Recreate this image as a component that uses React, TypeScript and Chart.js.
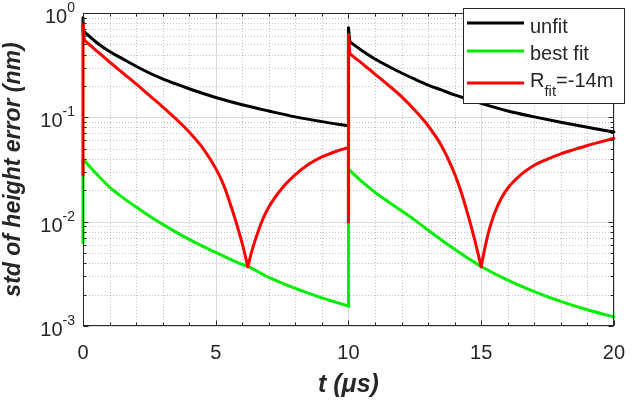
import React, { useEffect, useRef } from "react";
import { Chart, registerables } from "chart.js";

Chart.register(...registerables);

// ---- data ----
const unfitT = [0, 0, 0.05, 0.5, 1, 1.5, 2, 2.5, 3, 3.5, 4, 4.5, 5, 6, 7, 8, 9, 10, 10, 10.05, 10.5, 11, 11.5, 12, 12.5, 13, 13.5, 14, 15, 16, 17, 18, 19, 20];
const unfitV = [0.9, 0.68, 0.66, 0.525, 0.427, 0.363, 0.309, 0.266, 0.234, 0.209, 0.188, 0.17, 0.155, 0.132, 0.115, 0.101, 0.091, 0.083, 0.72, 0.531, 0.437, 0.363, 0.309, 0.266, 0.232, 0.204, 0.183, 0.164, 0.136, 0.115, 0.101, 0.0897, 0.0803, 0.0724];

const bestT = [0, 0, 0.05, 0.5, 1, 1.5, 2, 2.5, 3, 3.5, 4, 4.5, 5, 5.5, 6, 6.21, 7, 8, 9, 10, 10, 10.05, 10.5, 11, 11.5, 12, 12.5, 13, 13.5, 14, 14.5, 15, 16, 17, 18, 19, 20];
const bestV = [0.0063, 0.039, 0.0385, 0.0288, 0.0214, 0.017, 0.0138, 0.01135, 0.00944, 0.00794, 0.00676, 0.00582, 0.00507, 0.00442, 0.00389, 0.00372, 0.00292, 0.00229, 0.00186, 0.00155, 0.0313, 0.031, 0.0243, 0.0191, 0.0155, 0.0127, 0.01035, 0.0083, 0.00668, 0.00543, 0.00447, 0.00372, 0.00275, 0.00214, 0.00172, 0.00143, 0.00122];

const rfitT = [0, 0, 0.05, 0.5, 1, 1.5, 2, 2.5, 3, 3.5, 4, 4.5, 5, 5.3, 5.6, 5.9, 6.05, 6.21, 6.35, 6.5, 6.75, 7, 7.5, 8, 8.5, 9, 9.5, 10, 10, 10, 10.05, 10.5, 11, 11.5, 12, 12.5, 13, 13.5, 13.9, 14.2, 14.5, 14.75, 15, 15.15, 15.3, 15.5, 15.75, 16, 16.5, 17, 17.5, 18, 18.5, 19, 19.5, 20];
const rfitV = [0.028, 0.77, 0.55, 0.437, 0.339, 0.266, 0.209, 0.162, 0.126, 0.0966, 0.0724, 0.0513, 0.0324, 0.0224, 0.0135, 0.0076, 0.0055, 0.0037, 0.0051, 0.0068, 0.0102, 0.0138, 0.0209, 0.0282, 0.0355, 0.0417, 0.0468, 0.0513, 0.01, 0.62, 0.407, 0.331, 0.26, 0.204, 0.158, 0.117, 0.083, 0.0537, 0.0331, 0.0209, 0.0117, 0.0068, 0.0037, 0.00575, 0.0083, 0.012, 0.0166, 0.0209, 0.0282, 0.0347, 0.0398, 0.0447, 0.049, 0.0537, 0.0582, 0.063];

const xMajorTicks = [0, 5, 10, 15, 20];
const xMinorStep = 1;
const yDecades = [1, 0.1, 0.01, 0.001];
const yExponents = ["0", "-1", "-2", "-3"];
const yMinorMultipliers = [2, 3, 4, 5, 6, 7, 8, 9];

const legendMain = ["unfit", "best fit", "R"];
const legendSub = ["", "", "fit"];
const legendRest = ["", "", "=-14m"];
const seriesColors = ["#000000", "#00ee00", "#ff0000"];

const xTitle = "t (\u03bcs)";
const yTitle = "std of height error (nm)";

const FONT = '"Liberation Sans", Arial, Helvetica, sans-serif';
const AX = "#262626";

type Pt = { x: number; y: number };

// Split a series into straight vertical jumps (plus the link leaving a jump) and smooth runs (split at cusps)
function splitRuns(t: number[], v: number[]) {
  const out: { pts: Pt[]; smooth: boolean }[] = [];
  let cur: Pt[] = [];
  let afterVert = false;
  const flush = () => {
    if (cur.length > 1) out.push({ pts: cur, smooth: true });
    cur = [];
  };
  for (let i = 0; i < t.length; i++) {
    const p = { x: t[i], y: v[i] };
    const hasNext = i < t.length - 1;
    if (hasNext && t[i + 1] === t[i]) {
      cur.push(p);
      flush();
      out.push({ pts: [p, { x: t[i + 1], y: v[i + 1] }], smooth: false });
      afterVert = true;
      continue;
    }
    if (afterVert) {
      afterVert = false;
      if (hasNext) out.push({ pts: [p, { x: t[i + 1], y: v[i + 1] }], smooth: false });
      cur = [];
      continue;
    }
    cur.push(p);
    const isMin = i > 0 && hasNext && t[i - 1] !== t[i] && t[i + 1] !== t[i] && v[i] < v[i - 1] && v[i] < v[i + 1];
    if (isMin) {
      flush();
      cur.push(p);
    }
  }
  flush();
  return out;
}

const matlabPlugin = {
  id: "matlabLook",
  beforeDatasetsDraw(chart: any) {
    const { ctx, chartArea: a, scales } = chart;
    const x = scales.x, y = scales.y;
    ctx.save();
    ctx.lineWidth = 1;
    ctx.strokeStyle = "rgba(38,38,38,0.28)";
    ctx.setLineDash([1, 2]);
    ctx.beginPath();
    for (let t = x.min; t <= x.max; t += xMinorStep) {
      if (xMajorTicks.includes(t)) continue;
      const px = Math.round(x.getPixelForValue(t)) + 0.5;
      ctx.moveTo(px, a.top);
      ctx.lineTo(px, a.bottom);
    }
    for (const d of yDecades) {
      for (const m of yMinorMultipliers) {
        const v = d * m;
        if (v >= y.max || v <= y.min) continue;
        const py = Math.round(y.getPixelForValue(v)) + 0.5;
        ctx.moveTo(a.left, py);
        ctx.lineTo(a.right, py);
      }
    }
    ctx.stroke();
    ctx.setLineDash([]);
    ctx.strokeStyle = "rgba(38,38,38,0.16)";
    ctx.beginPath();
    for (const t of xMajorTicks) {
      const px = Math.round(x.getPixelForValue(t)) + 0.5;
      ctx.moveTo(px, a.top);
      ctx.lineTo(px, a.bottom);
    }
    for (const d of yDecades) {
      const py = Math.round(y.getPixelForValue(d)) + 0.5;
      ctx.moveTo(a.left, py);
      ctx.lineTo(a.right, py);
    }
    ctx.stroke();
    ctx.restore();
  },
  afterDatasetsDraw(chart: any) {
    const { ctx, chartArea: a, scales } = chart;
    const x = scales.x, y = scales.y;
    ctx.save();
    ctx.strokeStyle = AX;
    ctx.lineWidth = 1;
    const L = Math.round(a.left) + 0.5, R = Math.round(a.right) - 0.5;
    const T = Math.round(a.top) + 0.5, B = Math.round(a.bottom) - 0.5;
    ctx.strokeRect(L, T, R - L, B - T);
    ctx.beginPath();
    for (const t of xMajorTicks) {
      const px = Math.round(x.getPixelForValue(t)) + 0.5;
      ctx.moveTo(px, B); ctx.lineTo(px, B - 5);
      ctx.moveTo(px, T); ctx.lineTo(px, T + 5);
    }
    for (let t = x.min; t <= x.max; t += xMinorStep) {
      if (xMajorTicks.includes(t)) continue;
      const px = Math.round(x.getPixelForValue(t)) + 0.5;
      ctx.moveTo(px, B); ctx.lineTo(px, B - 3);
      ctx.moveTo(px, T); ctx.lineTo(px, T + 3);
    }
    for (const d of yDecades) {
      const py = Math.round(y.getPixelForValue(d)) + 0.5;
      ctx.moveTo(L, py); ctx.lineTo(L + 5, py);
      ctx.moveTo(R, py); ctx.lineTo(R - 5, py);
      for (const m of yMinorMultipliers) {
        const v = d * m;
        if (v >= y.max || v <= y.min) continue;
        const q = Math.round(y.getPixelForValue(v)) + 0.5;
        ctx.moveTo(L, q); ctx.lineTo(L + 3, q);
        ctx.moveTo(R, q); ctx.lineTo(R - 3, q);
      }
    }
    ctx.stroke();

    ctx.fillStyle = AX;
    ctx.textBaseline = "alphabetic";
    ctx.textAlign = "left";
    yDecades.forEach((d, i) => {
      const py = y.getPixelForValue(d);
      ctx.font = `20px ${FONT}`;
      const bw = ctx.measureText("10").width;
      ctx.font = `14px ${FONT}`;
      const sw = ctx.measureText(yExponents[i]).width;
      const xs = 75 - sw - bw;
      ctx.font = `20px ${FONT}`;
      ctx.fillText("10", xs, py + 10);
      ctx.font = `14px ${FONT}`;
      ctx.fillText(yExponents[i], xs + bw, py - 1);
    });

    const lx = 463, ly = 8, lw = 161, lh = 95;
    ctx.fillStyle = "#ffffff";
    ctx.fillRect(lx, ly, lw, lh);
    ctx.strokeStyle = AX;
    ctx.lineWidth = 1;
    ctx.strokeRect(lx + 0.5, ly + 0.5, lw, lh);
    const rowY = [23, 51, 83];
    const baseY = [33, 60, 87];
    legendMain.forEach((m, i) => {
      ctx.strokeStyle = seriesColors[i];
      ctx.lineWidth = 3;
      ctx.beginPath();
      ctx.moveTo(467, rowY[i]);
      ctx.lineTo(524, rowY[i]);
      ctx.stroke();
      ctx.fillStyle = AX;
      ctx.font = `20px ${FONT}`;
      let tx = 530;
      ctx.fillText(m, tx, baseY[i]);
      tx += ctx.measureText(m).width;
      if (legendSub[i]) {
        ctx.font = `15px ${FONT}`;
        ctx.fillText(legendSub[i], tx, baseY[i] + 9);
        tx += ctx.measureText(legendSub[i]).width;
      }
      if (legendRest[i]) {
        ctx.font = `20px ${FONT}`;
        ctx.fillText(legendRest[i], tx, baseY[i]);
      }
    });
    ctx.restore();
  },
};

export default function App() {
  const ref = useRef<HTMLCanvasElement | null>(null);
  useEffect(() => {
    if (!ref.current) return;
    const series = [
      { label: "unfit", t: unfitT, v: unfitV, color: seriesColors[0], order: 3 },
      { label: "best fit", t: bestT, v: bestV, color: seriesColors[1], order: 2 },
      { label: "R_fit=-14m", t: rfitT, v: rfitV, color: seriesColors[2], order: 1 },
    ];
    const datasets: any[] = [];
    series.forEach((s) => {
      splitRuns(s.t, s.v).forEach((run) => {
        datasets.push({
          label: s.label,
          data: run.pts,
          borderColor: s.color,
          backgroundColor: s.color,
          borderWidth: 3,
          pointRadius: 0,
          showLine: true,
          cubicInterpolationMode: run.smooth ? "monotone" : "default",
          tension: run.smooth ? 0.4 : 0,
          fill: false,
          order: s.order,
          clip: false,
          borderCapStyle: "round",
          borderJoinStyle: "round",
        });
      });
    });
    const chart = new Chart(ref.current, {
      type: "scatter",
      data: { datasets },
      options: {
        animation: false,
        responsive: true,
        maintainAspectRatio: false,
        layout: { padding: { left: 0, top: 13, right: 14, bottom: 0 } },
        plugins: { legend: { display: false }, tooltip: { enabled: false } },
        scales: {
          x: {
            type: "linear",
            min: 0,
            max: 20,
            afterFit: (s: any) => { s.height = 75; },
            afterBuildTicks: (s: any) => { s.ticks = xMajorTicks.map((v) => ({ value: v })); },
            grid: { display: false, drawTicks: false },
            border: { display: false },
            ticks: { color: AX, font: { family: FONT, size: 20 }, padding: 15, maxRotation: 0 },
            title: {
              display: true,
              text: xTitle,
              color: AX,
              font: { family: FONT, size: 25, weight: "bold", style: "italic" },
              padding: { top: 0, bottom: 1 },
            },
          },
          y: {
            type: "logarithmic",
            min: 0.001,
            max: 1,
            afterFit: (s: any) => { s.width = 83; },
            grid: { display: false, drawTicks: false },
            border: { display: false },
            ticks: { display: false },
            title: {
              display: true,
              text: yTitle,
              color: AX,
              font: { family: FONT, size: 23, weight: "bold", style: "italic" },
              padding: { top: 0, bottom: 0 },
            },
          },
        },
      } as any,
      plugins: [matlabPlugin],
    });
    return () => chart.destroy();
  }, []);
  return (
    <div style={{ position: "absolute", left: 0, top: 0, width: 640, height: 401, background: "#fff" }}>
      <canvas ref={ref} />
    </div>
  );
}
